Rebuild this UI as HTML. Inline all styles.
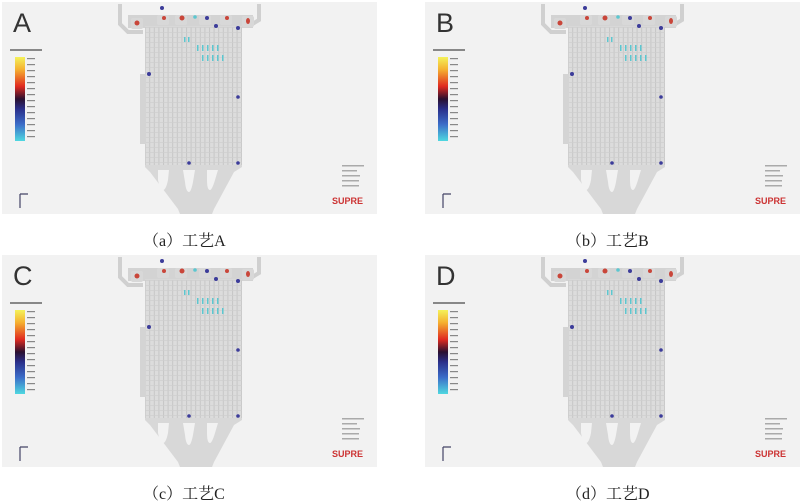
<!DOCTYPE html>
<html><head><meta charset="utf-8"><style>
html,body{margin:0;padding:0;background:#fff;width:800px;height:500px;overflow:hidden}
.cap{position:absolute;font-family:"Liberation Serif","Noto Serif CJK SC",serif;font-size:16px;color:#222;}
</style></head><body>
<svg width="800" height="500" style="position:absolute;left:0;top:0" xmlns="http://www.w3.org/2000/svg">
<defs>
<linearGradient id="lg" x1="0" y1="0" x2="0" y2="1">
<stop offset="0" stop-color="#f4f25a"/><stop offset="0.15" stop-color="#f5b030"/><stop offset="0.35" stop-color="#e02a20"/>
<stop offset="0.5" stop-color="#2a1030"/><stop offset="0.62" stop-color="#2a2f8a"/><stop offset="0.8" stop-color="#3b6cc8"/><stop offset="1" stop-color="#4fd8e0"/>
</linearGradient>
<pattern id="grid" width="4.6" height="5" patternUnits="userSpaceOnUse">
<rect width="4.6" height="5" fill="#dcdcdc"/>
<rect x="0" y="0" width="1" height="5" fill="#c6c6c6"/>
<rect x="0" y="0" width="4.6" height="0.7" fill="#cecece"/>
</pattern>
<symbol id="panel" viewBox="0 0 375 212" width="375" height="212">
<rect x="0" y="0" width="375" height="212" fill="#f2f2f2"/>
<rect x="13" y="55" width="10" height="84" fill="url(#lg)"/>
<g fill="#888"><rect x="8" y="47" width="32" height="2"/>
<rect x="25" y="56" width="8" height="1.2"/><rect x="25" y="62" width="8" height="1.2"/><rect x="25" y="68" width="8" height="1.2"/><rect x="25" y="74" width="8" height="1.2"/><rect x="25" y="80" width="8" height="1.2"/><rect x="25" y="86" width="8" height="1.2"/><rect x="25" y="92" width="8" height="1.2"/><rect x="25" y="98" width="8" height="1.2"/><rect x="25" y="104" width="8" height="1.2"/><rect x="25" y="110" width="8" height="1.2"/><rect x="25" y="116" width="8" height="1.2"/><rect x="25" y="122" width="8" height="1.2"/><rect x="25" y="128" width="8" height="1.2"/><rect x="25" y="134" width="8" height="1.2"/></g>
<g fill="#aaa"><rect x="340" y="163" width="22" height="1.5"/><rect x="340" y="168" width="15" height="1.5"/><rect x="340" y="173" width="18" height="1.5"/><rect x="340" y="178" width="17" height="1.5"/><rect x="340" y="183" width="17" height="1.5"/></g>
<text x="330" y="202" font-family="Liberation Sans,sans-serif" font-size="9" font-weight="bold" fill="#c33">SUPRE</text>
<path d="M18 192 v14 M18 192 h8" stroke="#446" stroke-width="1.2" fill="none"/>
<path d="M118 2 v20 l8 8 h15 M257 2 v16 l-10 6" stroke="#d0d0d0" stroke-width="4" fill="none"/>
<rect x="126" y="13" width="125" height="13" fill="#d3d3d3"/>
<path d="M143 24 H240 V165 L232 170 L212 207 L210 212 H178 L176 207 L148 170 L143 165 Z" fill="#d8d8d8"/>
<rect x="143" y="25" width="97" height="138" fill="url(#grid)"/>
<rect x="138" y="72" width="6" height="70" fill="#d4d4d4"/>
<path d="M156 168 h11 l-1 10 q-2 10 -5 10 q-3 0 -5 -10 z M181 168 h12 l-2 12 q-2 10 -4 10 q-3 0 -4 -10 z M205 168 h11 l-3 10 q-3 10 -5 10 q-3 0 -3 -10 z" fill="#f2f2f2"/>
<g fill="#d8d8d8"><rect x="129" y="16" width="12" height="11" rx="2"/><rect x="155" y="13" width="12" height="10" rx="2"/><rect x="173" y="13" width="12" height="10" rx="2"/><rect x="197" y="13" width="12" height="10" rx="2"/><rect x="218" y="13" width="12" height="10" rx="2"/><rect x="240" y="14" width="12" height="11" rx="2"/></g>
<g fill="#c9463a"><circle cx="135" cy="21" r="2.5"/><circle cx="162" cy="16" r="2"/><circle cx="180" cy="16" r="2.5"/><circle cx="225" cy="16" r="2"/><ellipse cx="246" cy="19" rx="2" ry="3"/></g>
<g fill="#3c3c9a"><circle cx="160" cy="6" r="2"/><circle cx="205" cy="16" r="2"/><circle cx="214" cy="24" r="2"/><circle cx="236" cy="26" r="2"/><circle cx="147" cy="72" r="2"/><circle cx="236" cy="95" r="1.8"/><circle cx="187" cy="161" r="1.8"/><circle cx="236" cy="161" r="1.8"/></g>
<g fill="#5cc7d0"><rect x="182" y="35" width="1.5" height="5"/><rect x="186" y="35" width="1.5" height="5"/><rect x="195" y="43" width="1.5" height="6"/><rect x="200" y="43" width="1.5" height="6"/><rect x="205" y="43" width="1.5" height="6"/><rect x="210" y="43" width="1.5" height="6"/><rect x="215" y="43" width="1.5" height="6"/><rect x="200" y="53" width="1.5" height="6"/><rect x="205" y="53" width="1.5" height="6"/><rect x="210" y="53" width="1.5" height="6"/><rect x="215" y="53" width="1.5" height="6"/><rect x="220" y="53" width="1.5" height="6"/><circle cx="193" cy="15" r="1.8"/></g>
</symbol>
</defs>
<use href="#panel" x="2" y="2"/>
<use href="#panel" x="425" y="2"/>
<use href="#panel" x="2" y="255"/>
<use href="#panel" x="425" y="255"/>
<g font-family="Liberation Sans,sans-serif" font-size="27" fill="#333">
<text x="13" y="32">A</text><text x="436" y="32">B</text><text x="13" y="285">C</text><text x="436" y="285">D</text>
</g>
</svg>
<div class="cap" style="left:143px;top:228px">（a）工艺A</div>
<div class="cap" style="left:566px;top:228px">（b）工艺B</div>
<div class="cap" style="left:143px;top:481px">（c）工艺C</div>
<div class="cap" style="left:566px;top:481px">（d）工艺D</div>
</body></html>
